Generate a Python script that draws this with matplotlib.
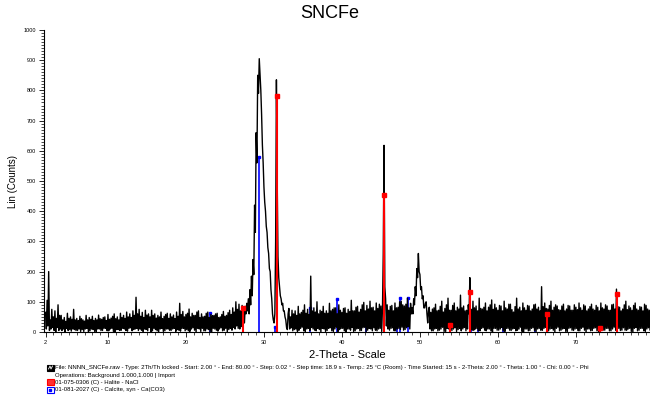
import matplotlib
matplotlib.use('Agg')
import matplotlib.pyplot as plt
import numpy as np
from matplotlib.patches import Rectangle
from matplotlib.ticker import MultipleLocator, FixedLocator

plt.rcParams['font.family'] = ['Liberation Sans', 'DejaVu Sans']

# scan, one value every 0.1 deg from 2 to 80
counts = [
    65, 10, 105, 20, 200, 5, 40, 10, 75, 15, 50, 5, 70, 0, 45, 15, 90, 5, 55, 10,            # 2
    55, 5, 40, 10, 48, 0, 35, 12, 62, 5, 45, 8, 50, 3, 42, 10, 75, 8, 40, 5,                 # 4
    45, 5, 38, 10, 52, 2, 44, 8, 40, 2, 36, 10, 55, 12, 40, 0, 48, 4, 42, 10,                # 6
    52, 8, 38, 2, 45, 0, 40, 10, 56, 10, 44, 5, 42, 5, 48, 12, 50, 12, 38, 4,                # 8
    58, 4, 42, 10, 46, 12, 52, 2, 60, 0, 44, 8, 50, 8, 40, 5, 62, 6, 48, 12,                 # 10
    55, 10, 45, 5, 66, 3, 50, 12, 60, 14, 48, 4, 70, 8, 55, 10, 115, 12, 60, 5,              # 12
    75, 10, 52, 6, 65, 2, 48, 10, 72, 8, 56, 4, 60, 15, 50, 0, 72, 4, 55, 12,                # 14
    60, 8, 46, 4, 55, 0, 50, 10, 66, 12, 44, 2, 52, 4, 58, 10, 62, 10, 45, 6,                # 16
    60, 5, 50, 10, 56, 12, 44, 2, 66, 8, 52, 6, 95, 3, 58, 12, 68, 12, 50, 4,                # 18
    58, 8, 62, 4, 76, 2, 50, 10, 62, 14, 55, 6, 55, 0, 66, 12, 70, 10, 48, 2,                # 20
    60, 12, 50, 4, 52, 4, 62, 10, 66, 8, 48, 2, 58, 0, 54, 12, 55, 10, 60, 6,                # 22
    62, 3, 48, 10, 50, 14, 58, 4, 68, 6, 52, 12, 55, 0, 64, 8, 72, 12, 58, 6,                # 24
    80, 15, 66, 10, 100, 20, 75, 12, 92, 10, 70, 18, 88, 25, 80, 30, 85, 60, 95, 70,         # 26
    110, 60, 140, 90, 185, 120, 240, 190, 420, 330, 660, 560, 850, 790, 905, 850, 800, 720, 620, 560,  # 28
    480, 430, 400, 350, 330, 280, 260, 210, 200, 140, 110, 60, 40, 30, 60, 300, 835, 500, 250, 180,    # 30
    150, 120, 110, 90, 95, 70, 70, 50, 40, 15, 8, 60, 78, 10, 50, 14, 72, 4, 60, 8,          # 32
    70, 10, 55, 2, 85, 6, 60, 12, 65, 16, 72, 4, 90, 2, 62, 10, 75, 12, 58, 5,               # 34
    185, 15, 70, 10, 80, 6, 66, 4, 100, 12, 60, 8, 72, 0, 68, 12, 85, 10, 62, 2,             # 36
    70, 5, 62, 12, 95, 14, 70, 4, 75, 2, 80, 10, 80, 16, 60, 2, 90, 8, 72, 12,               # 38
    65, 12, 78, 4, 80, 0, 62, 10, 75, 10, 68, 6, 105, 15, 70, 2, 70, 4, 82, 10,              # 40
    85, 12, 66, 4, 75, 5, 90, 14, 98, 16, 70, 2, 88, 6, 76, 12, 102, 10, 80, 4,              # 42
    82, 14, 70, 6, 96, 4, 78, 10, 92, 12, 86, 2, 80, 260, 618, 150, 110, 20, 90, 10,         # 44
    72, 6, 85, 12, 88, 14, 70, 4, 96, 4, 80, 10, 82, 12, 100, 8, 102, 16, 90, 6,             # 46
    86, 8, 92, 14, 112, 18, 80, 10, 95, 60, 80, 60, 110, 90, 150, 120, 210, 180, 260, 200,   # 48
    190, 140, 150, 110, 120, 80, 80, 95, 100, 60, 30, 70, 82, 10, 65, 4, 76, 4, 80, 10,      # 50
    92, 12, 70, 4, 72, 6, 85, 10, 102, 16, 66, 2, 78, 2, 90, 12, 112, 10, 72, 6,             # 52
    72, 5, 88, 10, 96, 14, 70, 2, 82, 8, 76, 12, 122, 4, 80, 10, 86, 15, 70, 4,              # 54
    72, 10, 90, 60, 180, 16, 75, 6, 102, 6, 80, 10, 86, 12, 70, 4, 112, 4, 78, 12,           # 56
    76, 14, 82, 6, 96, 4, 70, 10, 82, 10, 90, 4, 106, 0, 75, 12, 92, 12, 80, 6,              # 58
    72, 6, 88, 10, 86, 15, 70, 4, 102, 2, 80, 12, 76, 12, 92, 6, 92, 5, 74, 10,              # 60
    66, 12, 84, 4, 112, 6, 76, 10, 82, 16, 70, 2, 96, 0, 80, 10, 72, 10, 88, 4,              # 62
    86, 5, 70, 12, 76, 14, 90, 4, 92, 2, 76, 10, 82, 12, 70, 6, 150, 6, 84, 12,              # 64
    96, 15, 78, 4, 76, 4, 88, 10, 102, 12, 72, 6, 82, 0, 90, 12, 86, 16, 74, 4,              # 66
    72, 6, 86, 10, 92, 12, 70, 2, 76, 2, 88, 12, 86, 14, 72, 6, 72, 5, 90, 10,               # 68
    82, 12, 74, 4, 96, 4, 80, 12, 72, 16, 90, 6, 86, 0, 70, 10, 76, 10, 84, 4,               # 70
    92, 5, 76, 12, 72, 14, 88, 4, 82, 2, 70, 10, 96, 12, 80, 6, 76, 6, 90, 12,               # 72
    86, 12, 72, 4, 72, 4, 90, 10, 92, 16, 76, 6, 142, 10, 84, 12, 82, 5, 70, 6,              # 74
    76, 14, 90, 6, 102, 6, 74, 10, 86, 12, 80, 2, 72, 0, 88, 12, 96, 15, 76, 4,              # 76
    72, 6, 84, 12, 82, 12, 70, 4, 92, 2, 88, 10, 76, 14, 72, 6, 86, 8, 78, 10,               # 78
    60,
]
two_theta = 2.0 + 0.1 * np.arange(len(counts))

# reference patterns (stick positions / heights)
halite_pos = [27.37, 31.70, 45.45, 53.87, 56.48, 66.23, 73.07, 75.30]
halite_int = [80, 780, 452, 23, 133, 60, 13, 126]
calcite_pos = [23.05, 29.41, 31.45, 35.97, 39.40, 43.15, 47.12, 47.50, 48.50, 56.57, 57.40, 60.70, 64.70]
calcite_int = [62, 578, 18, 80, 110, 25, 28, 113, 113, 17, 46, 28, 29]

title = 'SNCFe'
legend_lines = [
    'File: NNNN_SNCFe.raw - Type: 2Th/Th locked - Start: 2.00 ° - End: 80.00 ° - Step: 0.02 ° - '
    'Step time: 18.9 s - Temp.: 25 °C (Room) - Time Started: 15 s - 2-Theta: 2.00 ° - Theta: 1.00 ° - Chi: 0.00 ° - Phi',
    'Operations: Background 1.000,1.000 | Import',
    '01-075-0306 (C) - Halite - NaCl',
    '01-081-2027 (C) - Calcite, syn - Ca(CO3)',
]

fig = plt.figure(figsize=(6.5, 3.96), dpi=100)
ax = fig.add_axes([44 / 650, 64 / 396, 606 / 650, 302 / 396])

ax.vlines(calcite_pos, 0, calcite_int, color='#0000ff', lw=1.2, zorder=1)
ax.plot(calcite_pos, calcite_int, 's', color='#0000ff', ms=2, zorder=1)
ax.plot(two_theta, counts, color='black', lw=1.0, zorder=2)
ax.vlines(halite_pos, 0, halite_int, color='#ff0000', lw=1.5, zorder=3)
ax.plot(halite_pos, halite_int, 's', color='#ff0000', ms=3, zorder=3)

ax.set_xlim(1.8, 79.5)
ax.set_ylim(0, 1000)
for s in ['top', 'right']:
    ax.spines[s].set_visible(False)
ax.spines['left'].set_linewidth(0.8)
ax.spines['bottom'].set_linewidth(0.8)

ax.xaxis.set_major_locator(FixedLocator([2, 10, 20, 30, 40, 50, 60, 70]))
ax.xaxis.set_minor_locator(MultipleLocator(1))
ax.yaxis.set_major_locator(MultipleLocator(100))
ax.yaxis.set_minor_locator(MultipleLocator(10))
ax.tick_params(which='major', length=3.5, width=0.6, labelsize=4, pad=2)
ax.tick_params(which='minor', length=2, width=0.5)

ax.set_ylabel('Lin (Counts)', fontsize=7, labelpad=4)
ax.set_xlabel('2-Theta - Scale', fontsize=8, labelpad=4)
fig.text(0.508, 0.966, title, ha='center', va='center', fontsize=13)

# legend block under the chart
text_x = 55 / 650
ys = [367.7, 375.0, 382.3, 389.5]
for txt, y in zip(legend_lines, ys):
    fig.text(text_x, 1 - y / 396, txt, fontsize=4.3, ha='left', va='center')

icon_w, icon_h = 7 / 650, 6 / 396
icons = [(ys[0], 'black', 'black'), (ys[2], '#ff0000', '#ff3030'), (ys[3], '#0000ff', 'white')]
for y, edge, face in icons:
    fig.add_artist(Rectangle((47 / 650, 1 - y / 396 - icon_h / 2), icon_w, icon_h,
                             transform=fig.transFigure, facecolor=face, edgecolor=edge, lw=0.8))
fig.add_artist(plt.Line2D([48.5 / 650, 50 / 650, 51 / 650, 52.5 / 650],
                          [1 - 369 / 396, 1 - 366 / 396, 1 - 369 / 396, 1 - 366 / 396],
                          transform=fig.transFigure, color='white', lw=0.6))
fig.add_artist(plt.Line2D([50.5 / 650], [1 - ys[3] / 396], marker='s', ms=1.5,
                          transform=fig.transFigure, color='#0000ff'))

fig.savefig('out.png', dpi=100)
